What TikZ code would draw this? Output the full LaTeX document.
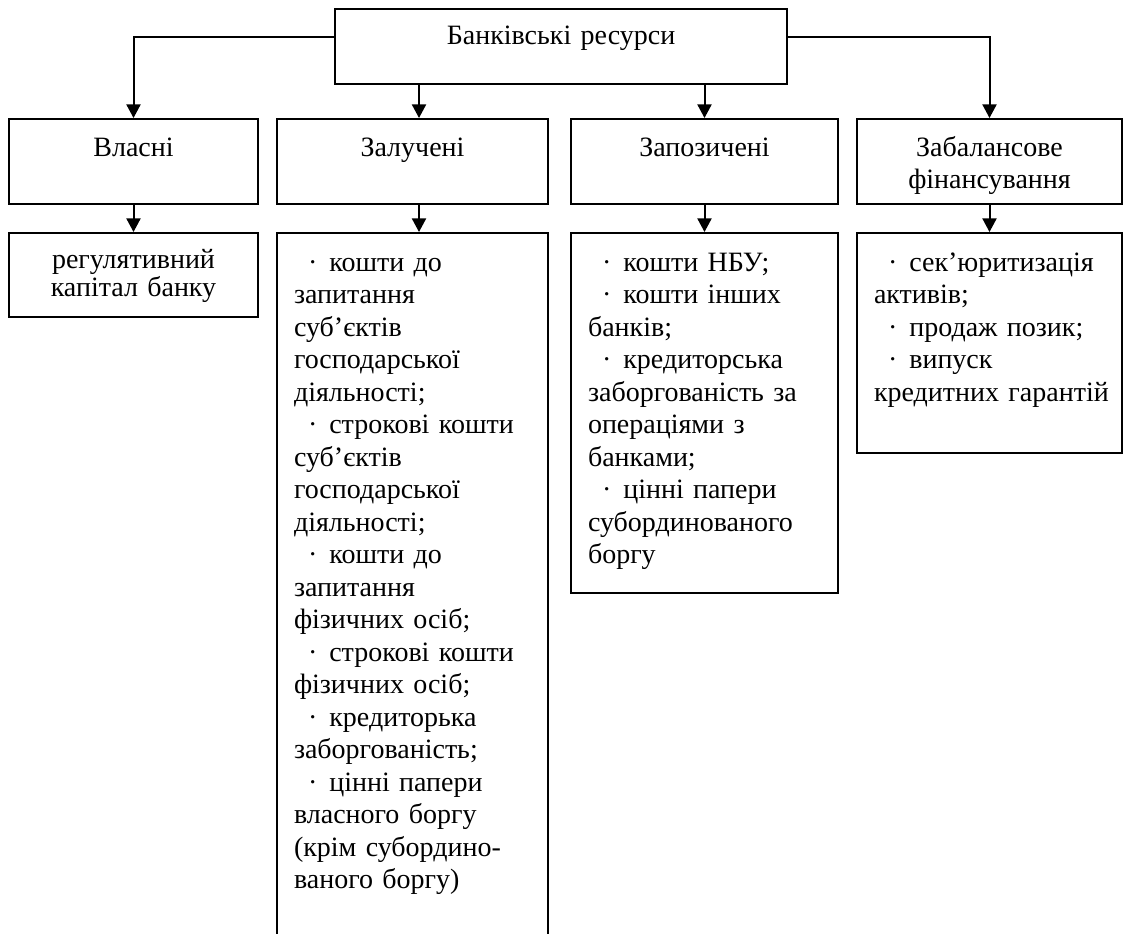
\documentclass[tikz,border=0pt]{standalone}
\usepackage{fontspec}
\setmainfont{Liberation Serif}
\usetikzlibrary{arrows.meta}

\newcommand{\dotitem}{\hspace*{7pt}·\hspace{6pt}}

\begin{document}
\begin{tikzpicture}[x=0.5pt,y=-0.5pt,
        box/.style={draw,line width=1.1pt,anchor=north,inner xsep=8.5pt,inner ysep=0pt,
            font=\fontsize{14}{16.25}\selectfont},
        head/.style={box,align=center,text height=18.5pt,text depth=24pt},
        list/.style={box,align=left,text height=19pt},
        conn/.style={line width=1pt,-{Triangle[length=6.8pt,width=7pt]}}]
            \useasboundingbox (0,0) rectangle (1123,933);
            \node[box,align=center,text width=209pt,text height=17.5pt,text depth=20pt] (res) at (561,8) {Банківські ресурси};
            \node[head,text width=107.5pt] (vl2) at (133.5,118) {Власні};
            \node[head,text width=118.5pt] (zl2) at (412.5,118) {Залучені};
            \node[head,text width=116.5pt] (zp2) at (704.5,118) {Запозичені};
            \node[head,text width=115.5pt] (zb2) at (989.5,118) {Забалансове\\фінансування};
            \node[box,align=center,text width=107.5pt,text height=17.5pt,text depth=24.5pt,
                font=\fontsize{14}{12.5}\selectfont] (vl3) at (133.5,232) {регулятивний\\капітал банку};
            \node[list,text width=118.5pt,text depth=345pt] (zl3) at (412.5,232) {\dotitem кошти до\\
                запитання\\
                суб’єктів\\
                господарської\\
                діяльності;\\
                \dotitem строкові кошти\\
                суб’єктів\\
                господарської\\
                діяльності;\\
                \dotitem кошти до\\
                запитання\\
                фізичних осіб;\\
                \dotitem строкові кошти\\
                фізичних осіб;\\
                \dotitem кредиторька\\
                заборгованість;\\
                \dotitem цінні папери\\
                власного боргу\\
                (крім субордино-\\
                ваного боргу)};
            \node[list,text width=116.5pt,text depth=161pt] (zp3) at (704.5,232) {\dotitem кошти НБУ;\\
                \dotitem кошти інших\\
                банків;\\
                \dotitem кредиторська\\
                заборгованість за\\
                операціями з\\
                банками;\\
                \dotitem цінні папери\\
                субординованого\\
                боргу};
            \node[list,text width=115.5pt,text depth=91pt] (zb3) at (989.5,232) {\dotitem сек’юритизація\\
                активів;\\
                \dotitem продаж позик;\\
                \dotitem випуск\\
                кредитних~гарантій};
            % arrows
            \coordinate (zlx) at ([xshift=3.25pt]zl2.north);
            \draw[conn] ([yshift=4.75pt]res.west) -| (vl2);
            \draw[conn] ([yshift=4.75pt]res.east) -| (zb2);
            \draw[conn] (zlx |- res.south) -- (zlx);
            \draw[conn] (res.south -| zp2) -- (zp2);
            \draw[conn] (vl2) -- (vl3);
            \draw[conn] (zlx |- zl2.south) -- (zlx |- zl3.north);
            \draw[conn] (zp2) -- (zp3);
            \draw[conn] (zb2) -- (zb3);
        \end{tikzpicture}
\end{document}
